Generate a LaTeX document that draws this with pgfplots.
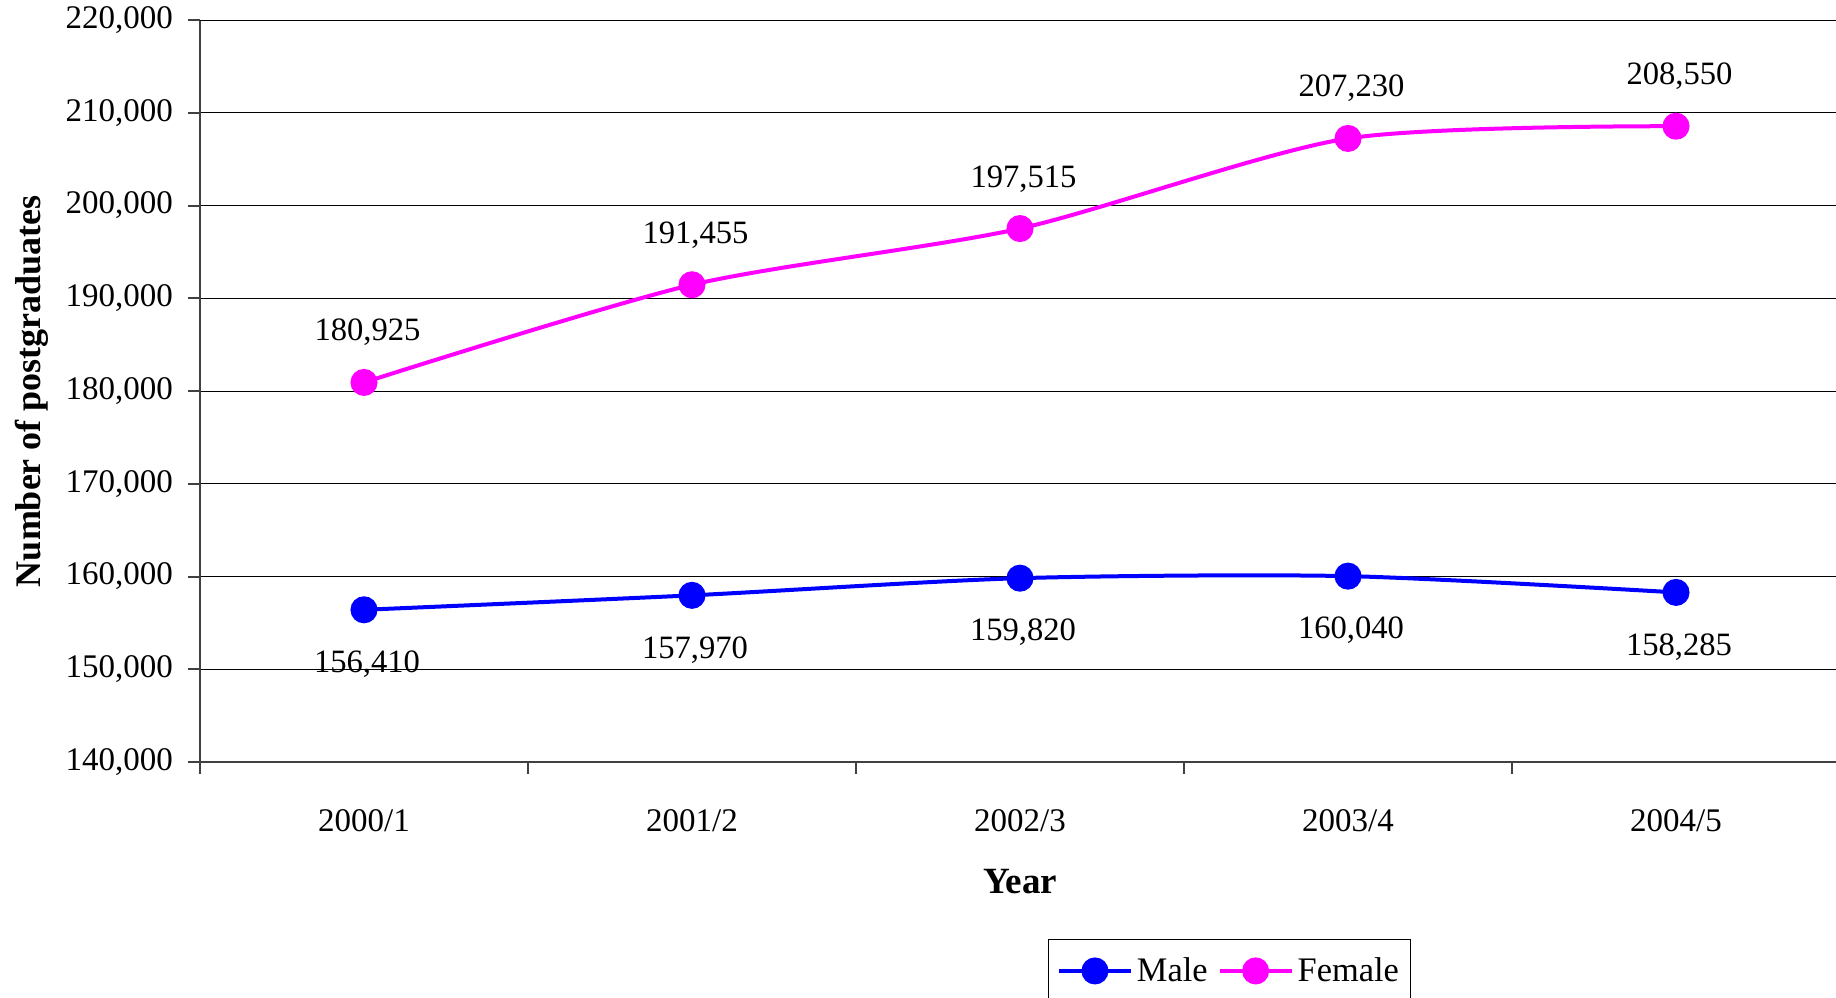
\documentclass[border=0pt]{standalone}
\usepackage{pgfplots}
\pgfplotsset{compat=1.18}
\usepackage{fontspec}
\setmainfont{Liberation Serif}
\definecolor{maleblue}{RGB}{0,0,255}
\definecolor{femmag}{RGB}{255,0,255}
\definecolor{axisgray}{RGB}{64,64,64}
\pgfkeys{/pgf/number format/.cd, fixed, 1000 sep={,}, assume math mode=true}
\begin{document}
\begin{tikzpicture}
\begin{axis}[
  scale only axis, width=820pt, height=371pt,
  xmin=-0.5, xmax=4.5, ymin=140000, ymax=220000,
  axis x line*=bottom, axis y line*=left,
  axis line style={-, draw=axisgray, line width=1pt},
  xtick={0,1,2,3,4},
  xticklabels={2000/1,2001/2,2002/3,2003/4,2004/5},
  x tick style={draw=none},
  minor xtick={-0.5,0.5,1.5,2.5,3.5},
  minor x tick style={draw=axisgray, line width=1pt},
  ytick={140000,150000,...,210000},
  y tick style={draw=axisgray, line width=1pt},
  extra y ticks={220000},
  extra y tick style={grid style={draw=gray, line width=1.2pt}, y tick style={draw=axisgray, line width=1pt}},
  tick align=outside, major tick length=6pt, minor tick length=6pt,
  ymajorgrids, major grid style={draw=black, line width=0.5pt},
  scaled y ticks=false,
  yticklabel style={/pgf/number format/fixed, /pgf/number format/1000 sep={,}, /pgf/number format/assume math mode=true, xshift=-4pt},
  ticklabel style={font=\fontsize{16.5}{19}\selectfont},
  xticklabel style={yshift=-14pt},
  xlabel={Year}, ylabel={Number of postgraduates},
  every axis x label/.style={at={(axis description cs:0.5,0)}, yshift=-60pt, anchor=center, font=\bfseries\fontsize{18.5}{21}\selectfont},
  every axis y label/.style={at={(axis description cs:0,0.5)}, xshift=-84pt, rotate=90, anchor=center, font=\bfseries\fontsize{18}{21}\selectfont},
  legend columns=2,
  legend style={at={(axis description cs:0.628,0)}, anchor=north, yshift=-88.5pt, draw=black, line width=0.5pt, font=\fontsize{17.2}{20}\selectfont, inner xsep=4pt, inner ysep=7pt, /tikz/every even column/.append style={column sep=3pt}},
  legend image code/.code={\draw[mark repeat=2, mark phase=2, #1] plot coordinates {(0pt,0pt) (18pt,0pt) (36pt,0pt)};},
  every node near coord/.append style={font=\fontsize{16.3}{19}\selectfont, text=black, anchor=center, /pgf/number format/fixed, /pgf/number format/1000 sep={,}, /pgf/number format/assume math mode=true},
]
\addplot[maleblue, line width=2pt, smooth, tension=0.45, mark=*, mark size=5.75pt, mark options={fill=maleblue, draw=maleblue},
  nodes near coords, point meta=y, every node near coord/.append style={yshift=-27.2pt, xshift=1.5pt}]
  coordinates {(0,156410) (1,157970) (2,159820) (3,160040) (4,158285)};
\addlegendentry{Male}
\addplot[femmag, line width=2pt, smooth, tension=0.45, mark=*, mark size=5.75pt, mark options={fill=femmag, draw=femmag},
  nodes near coords, point meta=y, every node near coord/.append style={yshift=24.9pt, xshift=1.75pt}]
  coordinates {(0,180925) (1,191455) (2,197515) (3,207230) (4,208550)};
\addlegendentry{Female}
\end{axis}
\pgfresetboundingbox
\useasboundingbox (-100pt,-117.5pt) rectangle (818pt,381pt);
\end{tikzpicture}
\end{document}
